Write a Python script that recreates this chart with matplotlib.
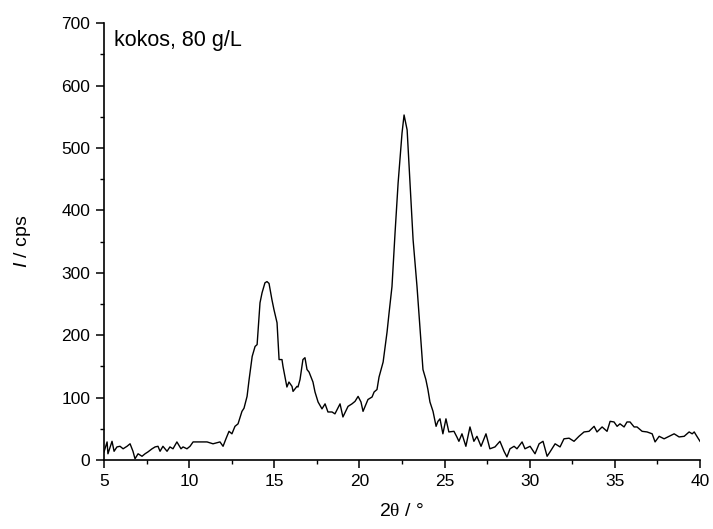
import numpy as np
import matplotlib
matplotlib.use("Agg")
import matplotlib.pyplot as plt

plt.rcParams["font.family"] = ["Liberation Sans", "DejaVu Sans"]
plt.rcParams["mathtext.fontset"] = "custom"
plt.rcParams["mathtext.it"] = "Liberation Sans:italic"
plt.rcParams["mathtext.rm"] = "Liberation Serif"

# 2theta (deg) and intensity (cps)
two_theta = [
    5.00, 5.18, 5.23, 5.47, 5.59, 5.76, 5.94, 6.12, 6.35, 6.53,
    6.70, 6.82, 7.00, 7.23, 7.41, 7.58, 7.82, 8.00, 8.17, 8.29,
    8.46, 8.70, 8.87, 9.05, 9.28, 9.52, 9.64, 9.87, 10.05, 10.23,
    10.64, 11.05, 11.40, 11.81, 11.99, 12.16, 12.34, 12.51, 12.69, 12.87,
    13.10, 13.22, 13.40, 13.52, 13.70, 13.87, 13.99, 14.16, 14.28, 14.45,
    14.57, 14.69, 14.86, 14.98, 15.16, 15.28, 15.45, 15.51, 15.74, 15.86,
    16.04, 16.10, 16.33, 16.39, 16.51, 16.68, 16.80, 16.92, 17.04, 17.27,
    17.39, 17.57, 17.80, 17.98, 18.15, 18.39, 18.56, 18.86, 19.03, 19.33,
    19.56, 19.74, 19.92, 20.09, 20.21, 20.50, 20.74, 20.86, 21.03, 21.15,
    21.39, 21.62, 21.74, 21.91, 22.09, 22.27, 22.50, 22.62, 22.80, 22.97,
    23.15, 23.38, 23.55, 23.73, 23.90, 24.02, 24.14, 24.32, 24.50, 24.61,
    24.73, 24.90, 25.08, 25.25, 25.55, 25.72, 25.84, 26.02, 26.25, 26.49,
    26.72, 26.90, 27.14, 27.43, 27.66, 27.96, 28.25, 28.49, 28.66, 28.84,
    29.08, 29.25, 29.55, 29.72, 30.02, 30.31, 30.55, 30.78, 31.02, 31.19,
    31.49, 31.78, 32.01, 32.31, 32.60, 32.89, 33.19, 33.48, 33.78, 33.95,
    34.25, 34.54, 34.72, 34.95, 35.13, 35.30, 35.54, 35.71, 35.89, 36.13,
    36.30, 36.60, 36.89, 37.19, 37.36, 37.60, 37.89, 38.18, 38.48, 38.77,
    39.07, 39.36, 39.54, 39.66, 39.77, 40.00,
]
intensity = [
    13, 29, 10, 30, 14, 21, 22, 18, 22, 26,
    14, 2, 10, 6, 10, 13, 18, 21, 22, 14,
    22, 14, 21, 18, 29, 18, 21, 18, 22, 29,
    29, 29, 26, 29, 22, 34, 46, 42, 54, 58,
    78, 83, 102, 129, 166, 182, 185, 252, 268, 284,
    286, 283, 257, 241, 220, 161, 161, 150, 117, 125,
    118, 110, 118, 117, 129, 161, 164, 145, 141, 125,
    109, 93, 82, 90, 77, 77, 74, 90, 69, 86,
    90, 94, 102, 93, 78, 97, 101, 109, 113, 133,
    157, 205, 236, 278, 364, 444, 524, 553, 529, 444,
    353, 278, 214, 145, 129, 113, 93, 78, 54, 62,
    66, 42, 66, 45, 46, 37, 30, 42, 22, 53,
    30, 38, 22, 42, 18, 21, 30, 14, 5, 18,
    22, 18, 29, 18, 22, 10, 26, 30, 6, 13,
    26, 21, 34, 35, 30, 38, 45, 46, 54, 45,
    53, 46, 62, 61, 54, 58, 53, 61, 61, 53,
    53, 46, 45, 42, 29, 38, 34, 38, 42, 37,
    38, 45, 42, 45, 40, 30,
]

fig = plt.figure(figsize=(7.13, 5.29), dpi=100)
ax = fig.add_axes([0.1459, 0.1304, 0.8359, 0.8256])

ax.plot(two_theta, intensity, color="black", lw=1.0)

ax.set_xlim(5, 40)
ax.set_ylim(0, 700)
ax.set_xticks(np.arange(5, 41, 5))
ax.set_xticks(np.arange(7.5, 40, 5), minor=True)
ax.set_yticks(np.arange(0, 701, 100))
ax.set_yticks(np.arange(50, 700, 100), minor=True)

ax.spines["top"].set_visible(False)
ax.spines["right"].set_visible(False)
for s in ("left", "bottom"):
    ax.spines[s].set_linewidth(1.2)

ax.tick_params(which="major", direction="out", length=6, width=1.1, labelsize=12.5, pad=4)
ax.tick_params(which="minor", direction="out", length=3, width=1.0)

ax.set_xlabel(r"2$\mathrm{\theta}$ / °", fontsize=14, labelpad=10)
ax.set_ylabel(r"$\it{I}$ / cps", fontsize=14, labelpad=20)

ax.text(0.016, 0.985, "kokos, 80 g/L", transform=ax.transAxes, fontsize=15.5, va="top", ha="left")

fig.savefig("out.png", dpi=100)
